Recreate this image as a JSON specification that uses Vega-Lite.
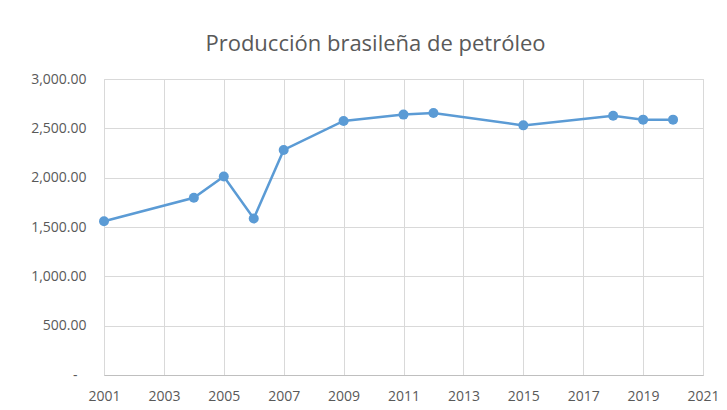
{
  "$schema": "https://vega.github.io/schema/vega-lite/v6.json",
  "width": 599,
  "height": 296,
  "autosize": {"type": "none"},
  "padding": {"left": 104, "top": 79, "right": 24, "bottom": 35},
  "background": "white",
  "title": {
    "text": "Producción brasileña de petróleo",
    "font": "Open Sans",
    "fontSize": 22,
    "fontWeight": "normal",
    "color": "#595959",
    "anchor": "middle",
    "dx": -28,
    "offset": 16
  },
  "config": {
    "view": {"stroke": "#d9d9d9", "strokeWidth": 1},
    "axis": {
      "labelFont": "Open Sans",
      "labelFontSize": 14,
      "labelColor": "#595959",
      "gridColor": "#d9d9d9",
      "gridWidth": 1,
      "ticks": false,
      "domain": false,
      "title": null,
      "labelFlush": false,
      "labelOverlap": false
    }
  },
  "data": {
    "values": [
      {"year": 2001, "value": 1558},
      {"year": 2004, "value": 1796},
      {"year": 2005, "value": 2011},
      {"year": 2006, "value": 1586},
      {"year": 2007, "value": 2281},
      {"year": 2009, "value": 2575},
      {"year": 2011, "value": 2639},
      {"year": 2012, "value": 2656},
      {"year": 2015, "value": 2530},
      {"year": 2018, "value": 2628},
      {"year": 2019, "value": 2588},
      {"year": 2020, "value": 2588}
    ]
  },
  "encoding": {
    "x": {
      "field": "year",
      "type": "quantitative",
      "scale": {"domain": [2001, 2021], "nice": false, "zero": false},
      "axis": {
        "values": [2001, 2003, 2005, 2007, 2009, 2011, 2013, 2015, 2017, 2019, 2021],
        "format": "d",
        "labelPadding": 14,
        "domain": true,
        "domainColor": "#bfbfbf",
        "domainWidth": 1
      }
    },
    "y": {
      "field": "value",
      "type": "quantitative",
      "scale": {"domain": [0, 3000], "nice": false},
      "axis": {
        "values": [0, 500, 1000, 1500, 2000, 2500, 3000],
        "labelExpr": "datum.value == 0 ? '-' : format(datum.value, ',.2f')",
        "labelPadding": {"condition": {"test": "datum.value == 0", "value": 27}, "value": 18}
      }
    }
  },
  "layer": [
    {"mark": {"type": "line", "color": "#5b9bd5", "strokeWidth": 2.5}},
    {"mark": {"type": "point", "filled": true, "color": "#5b9bd5", "size": 100, "opacity": 1}}
  ]
}
